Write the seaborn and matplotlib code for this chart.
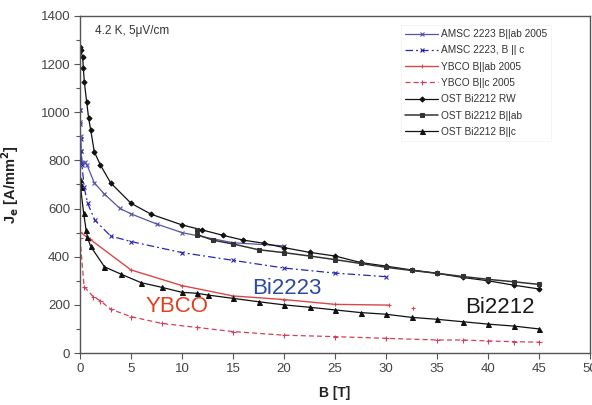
import matplotlib
matplotlib.use("Agg")
import matplotlib.pyplot as plt
import seaborn as sns
import pandas as pd
import numpy as np
from matplotlib.ticker import MultipleLocator

# ---- data ----
amsc_ab_B = [0, 0.02, 0.05, 0.1, 0.2, 0.45, 0.7, 1.4, 2.4, 3.9, 5, 7.5, 10, 15, 20]
amsc_ab_J = [1010, 960, 900, 840, 790, 795, 780, 707, 660, 601, 578, 536, 500, 458, 445]

amsc_c_B = [0, 0.02, 0.05, 0.1, 0.2, 0.4, 0.75, 1.45, 3, 5, 10, 15, 20, 25, 30]
amsc_c_J = [1010, 950, 890, 840, 780, 690, 622, 552, 486, 463, 417, 385, 353, 332, 317]

ybco_ab_B = [0, 1, 5, 10, 15, 20, 25, 30.3]
ybco_ab_J = [503, 472, 345, 280, 237, 222, 202, 199]
ybco_ab_extra_B = [32.6]
ybco_ab_extra_J = [186]

ybco_c_B = [0, 0.4, 1.3, 2, 3, 5, 8, 11.5, 15, 20, 25, 30, 35, 37.5, 40, 42.5, 45]
ybco_c_J = [476, 276, 234, 217, 182, 151, 123, 106, 89, 74, 68, 61, 54, 54, 50, 47, 45]

rw_B = [0, 0.07, 0.26, 0.33, 0.42, 0.65, 0.85, 1.05, 1.4, 2, 3, 5, 7, 10, 12, 14, 16, 18, 20,
        22.5, 25, 27.5, 30, 32.5, 35, 37.5, 40, 42.5, 45]
rw_J = [1272, 1258, 1228, 1183, 1127, 1044, 975, 926, 836, 781, 707, 622, 576, 532, 511, 489,
        469, 456, 438, 418, 403, 376, 361, 345, 331, 314, 300, 282, 266]

ab_B = [11.5, 11.5, 13, 15, 17.5, 20, 22.5, 25, 27.5, 30, 32.5, 35, 37.5, 40, 42.5, 45]
ab_J = [510, 492, 469, 453, 429, 417, 403, 388, 372, 356, 343, 331, 318, 306, 296, 285]

c_B = [0, 0, 0.05, 0.36, 0.6, 0.72, 1.04, 2.4, 4, 6, 8, 10, 11.5, 12.5, 15, 17.5, 20,
       22.5, 25, 27.5, 30, 32.5, 35, 37.5, 40, 42.5, 45]
c_J = [722, 705, 690, 580, 511, 482, 443, 358, 328, 292, 273, 252, 248, 241, 227, 213, 200,
       190, 179, 168, 161, 148, 140, 130, 120, 112, 100]

labels = ["AMSC 2223 B||ab 2005", "AMSC 2223, B || c", "YBCO B||ab 2005", "YBCO B||c 2005",
          "OST Bi2212 RW", "OST Bi2212 B||ab", "OST Bi2212 B||c"]

x_ticks = list(range(0, 51, 5))
y_ticks = list(range(0, 1401, 200))

# ---- style ----
sns.set_theme(style="white")
plt.rcParams['font.family'] = ['Liberation Sans', 'DejaVu Sans']

fig = plt.figure(figsize=(5.92, 4.05), dpi=100)
ax = fig.add_axes([80/592, 52/405, 510/592, 337/405])

series = [
    (amsc_ab_B, amsc_ab_J, labels[0], dict(color="#5555a8", marker="x", ms=3.2, mew=0.8, lw=0.9, ls="-")),
    (amsc_c_B, amsc_c_J, labels[1], dict(color="#2626b8", marker="x", ms=3.2, mew=0.8, lw=0.9, dashes=(6, 2.5, 1.5, 2.5))),
    (ybco_ab_B, ybco_ab_J, labels[2], dict(color="#d84848", marker="+", ms=3, mew=0.8, lw=1.0, ls="-")),
    (ybco_c_B, ybco_c_J, labels[3], dict(color="#d0405a", marker="+", ms=3.6, mew=0.8, lw=0.9, dashes=(4, 2.5))),
    (rw_B, rw_J, labels[4], dict(color="#111111", marker="D", ms=2.6, lw=0.9, ls="-")),
    (ab_B, ab_J, labels[5], dict(color="#333333", marker="s", ms=3.4, lw=1.1, ls="-")),
    (c_B, c_J, labels[6], dict(color="#111111", marker="^", ms=3.6, lw=0.9, ls="-")),
]

handles = []
for B, J, lab, kw in series:
    df = pd.DataFrame({"B": B, "J": J})
    kw = dict(kw)
    dashes = kw.pop("dashes", None)
    sns.lineplot(data=df, x="B", y="J", ax=ax, sort=False, estimator=None,
                 label=lab, markeredgecolor=kw["color"], **kw)
    line = ax.get_lines()[-1]
    if dashes is not None:
        line.set_dashes(dashes)
    handles.append(line)

sns.scatterplot(x=ybco_ab_extra_B, y=ybco_ab_extra_J, ax=ax, color="#d84848",
                marker="+", s=9, linewidth=0.8, legend=False)

ax.set_xlim(0, 50)
ax.set_ylim(0, 1400)
ax.set_xticks(x_ticks)
ax.set_yticks(y_ticks)
ax.yaxis.set_minor_locator(MultipleLocator(100))
ax.tick_params(axis="both", which="major", direction="out", length=4, width=0.8,
               color="#555555", labelsize=9.5, labelcolor="#444444", pad=3,
               bottom=True, left=True)
ax.tick_params(axis="y", which="minor", direction="out", length=3, width=0.8,
               color="#555555", left=True)
for sp in ax.spines.values():
    sp.set_color("#555555")
    sp.set_linewidth(1.0)

ax.set_xlabel("B [T]", fontsize=10, fontweight="bold", color="#222222", labelpad=8)
ax.set_ylabel(r"J$_\mathbf{e}$ [A/mm$^\mathbf{2}$]", fontsize=10.5, fontweight="bold",
              color="#222222", labelpad=14)

ax.text(0.03, 0.955, "4.2 K, 5\u03bcV/cm", transform=ax.transAxes, fontsize=8.5,
        color="#333333", va="center", ha="left")
ax.text(16.9, 267, "Bi2223", fontsize=16, color="#2b4aa0", va="center", ha="left")
ax.text(6.4, 193, "YBCO", fontsize=16, color="#e0401e", va="center", ha="left")
ax.text(37.8, 190, "Bi2212", fontsize=16, color="#1a1a1a", va="center", ha="left")

leg = ax.legend(handles=handles, labels=labels, loc="upper left",
                bbox_to_anchor=(0.62, 0.988), fontsize=7.3, frameon=True,
                handlelength=3.2, handletextpad=0.3, labelspacing=0.62,
                borderpad=0.4, fancybox=False)
leg.get_frame().set_edgecolor("#f0f0f0")
leg.get_frame().set_linewidth(0.6)
for t in leg.get_texts():
    t.set_color("#333333")

fig.savefig("out.png", dpi=100)
